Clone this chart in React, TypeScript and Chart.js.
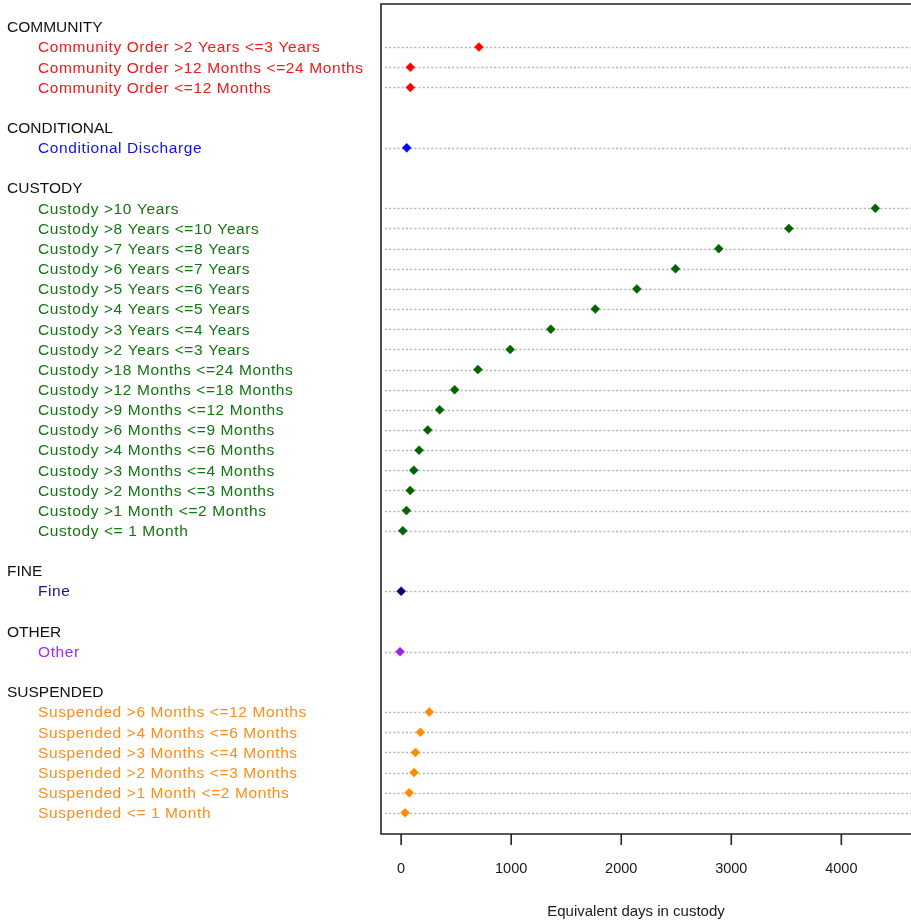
import React, { useEffect, useRef } from "react";
import { Chart, registerables } from "chart.js";

Chart.register(...registerables);

const groupNames = ["COMMUNITY", "CONDITIONAL", "CUSTODY", "FINE", "OTHER", "SUSPENDED"];

const communityLabels = [
  "Community Order >2 Years <=3 Years",
  "Community Order >12 Months <=24 Months",
  "Community Order <=12 Months",
];
const communityValues = [707, 84, 84];

const conditionalLabels = ["Conditional Discharge"];
const conditionalValues = [51];

const custodyLabels = [
  "Custody >10 Years",
  "Custody >8 Years <=10 Years",
  "Custody >7 Years <=8 Years",
  "Custody >6 Years <=7 Years",
  "Custody >5 Years <=6 Years",
  "Custody >4 Years <=5 Years",
  "Custody >3 Years <=4 Years",
  "Custody >2 Years <=3 Years",
  "Custody >18 Months <=24 Months",
  "Custody >12 Months <=18 Months",
  "Custody >9 Months <=12 Months",
  "Custody >6 Months <=9 Months",
  "Custody >4 Months <=6 Months",
  "Custody >3 Months <=4 Months",
  "Custody >2 Months <=3 Months",
  "Custody >1 Month <=2 Months",
  "Custody <= 1 Month",
];
const custodyValues = [
  4309, 3523, 2886, 2493, 2142, 1764, 1360, 991, 698, 486, 350, 242, 163, 115, 82, 48, 15,
];

const fineLabels = ["Fine"];
const fineValues = [0];

const otherLabels = ["Other"];
const otherValues = [-10];

const suspendedLabels = [
  "Suspended >6 Months <=12 Months",
  "Suspended >4 Months <=6 Months",
  "Suspended >3 Months <=4 Months",
  "Suspended >2 Months <=3 Months",
  "Suspended >1 Month <=2 Months",
  "Suspended <= 1 Month",
];
const suspendedValues = [256, 175, 130, 118, 73, 36];

const groupColors = ["#FF0000", "#0000FF", "#006400", "#000080", "#A020F0", "#FF8C00"];
const labelColors = ["#F01818", "#1010F0", "#117511", "#1E1090", "#A52CEE", "#FF8C1A"];

const xTicks = [0, 1000, 2000, 3000, 4000];
const xTitle = "Equivalent days in custody";

const groupLabels = [communityLabels, conditionalLabels, custodyLabels, fineLabels, otherLabels, suspendedLabels];
const groupValues = [communityValues, conditionalValues, custodyValues, fineValues, otherValues, suspendedValues];

type RowLabel = { slot: number; text: string; header: boolean; color: string };

function buildRows() {
  const rows: RowLabel[] = [];
  const datasets: any[] = [];
  let slot = 0;
  groupNames.forEach((g, gi) => {
    rows.push({ slot, text: g, header: true, color: "#111111" });
    const labels = groupLabels[gi];
    const values = groupValues[gi];
    const pts: { x: number; y: number }[] = [];
    labels.forEach((l, i) => {
      const s = slot + 1 + i;
      rows.push({ slot: s, text: l, header: false, color: labelColors[gi] });
      pts.push({ x: values[i], y: s });
    });
    datasets.push({
      label: g,
      data: pts,
      pointStyle: "rectRot",
      pointRadius: 4.5,
      pointBackgroundColor: groupColors[gi],
      pointBorderColor: groupColors[gi],
      pointBorderWidth: 0.5,
      showLine: false,
    });
    slot += labels.length + 2;
  });
  return { rows, datasets };
}

const FONT = '"Liberation Sans", Arial, sans-serif';

const decorPlugin = (rows: RowLabel[]) => ({
  id: "dotchartDecor",
  beforeDatasetsDraw(chart: any) {
    const { ctx, chartArea, scales } = chart;
    ctx.save();
    ctx.strokeStyle = "#b4b4b4";
    ctx.lineWidth = 1.3;
    ctx.setLineDash([2, 2.2]);
    rows.forEach((r) => {
      if (r.header) return;
      const y = Math.round(scales.y.getPixelForValue(r.slot)) + 0.5;
      ctx.beginPath();
      ctx.moveTo(chartArea.left + 4, y);
      ctx.lineTo(chartArea.right + 2, y);
      ctx.stroke();
    });
    ctx.restore();
  },
  afterDraw(chart: any) {
    const { ctx, chartArea, scales } = chart;
    ctx.save();
    // box (right side lies beyond the visible canvas)
    ctx.strokeStyle = "#222222";
    ctx.lineWidth = 1.6;
    ctx.beginPath();
    ctx.moveTo(chartArea.right + 2, chartArea.top);
    ctx.lineTo(chartArea.left, chartArea.top);
    ctx.lineTo(chartArea.left, chartArea.bottom);
    ctx.lineTo(chartArea.right + 2, chartArea.bottom);
    ctx.stroke();
    // x ticks
    ctx.fillStyle = "#1a1a1a";
    ctx.font = `14.5px ${FONT}`;
    ctx.textAlign = "center";
    ctx.textBaseline = "middle";
    xTicks.forEach((t) => {
      const x = scales.x.getPixelForValue(t);
      ctx.beginPath();
      ctx.moveTo(x, chartArea.bottom);
      ctx.lineTo(x, chartArea.bottom + 11);
      ctx.stroke();
      ctx.fillText(String(t), x, chartArea.bottom + 35);
    });
    // axis title
    ctx.font = `15px ${FONT}`;
    ctx.fillText(xTitle, 636, chartArea.bottom + 78);
    // row labels
    ctx.textAlign = "left";
    ctx.font = `15.5px ${FONT}`;
    rows.forEach((r) => {
      const y = scales.y.getPixelForValue(r.slot) + 1;
      (ctx as any).letterSpacing = r.header ? "0px" : "0.6px";
      ctx.fillStyle = r.color;
      ctx.fillText(r.text, r.header ? 7 : 38, y);
    });
    ctx.restore();
  },
});

export default function App() {
  const ref = useRef<HTMLCanvasElement | null>(null);
  useEffect(() => {
    if (!ref.current) return;
    const { rows, datasets } = buildRows();
    const chart = new Chart(ref.current, {
      type: "scatter",
      data: { datasets },
      options: {
        responsive: false,
        animation: false,
        events: [],
        layout: { autoPadding: false, padding: { left: 381, top: 4, right: 0, bottom: 89 } },
        plugins: { legend: { display: false }, tooltip: { enabled: false } },
        scales: {
          x: { type: "linear", min: -183, max: 4633, display: false },
          y: { type: "linear", min: -1.14, max: 40.05, reverse: true, display: false },
        },
      },
      plugins: [decorPlugin(rows)],
    });
    return () => chart.destroy();
  }, []);
  return (
    <div style={{ position: "fixed", left: 0, top: 0, width: 911, height: 923, background: "#ffffff" }}>
      <canvas ref={ref} width={911} height={923} style={{ display: "block", width: 911, height: 923 }} />
    </div>
  );
}
